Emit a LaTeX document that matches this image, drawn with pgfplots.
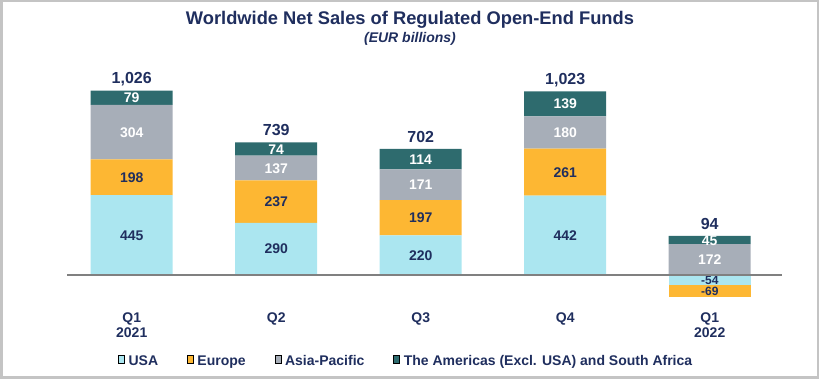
\documentclass[border=0pt]{standalone}
\usepackage{fontspec}
\setmainfont{Liberation Sans}
\usepackage{pgfplots}
\usepackage{pgfplotstable}
\pgfplotsset{compat=1.18}
\definecolor{navy}{HTML}{1F2E5E}
\definecolor{cusa}{HTML}{ABE6F0}
\definecolor{ceur}{HTML}{FDB733}
\definecolor{casia}{HTML}{A7AEB8}
\definecolor{camer}{HTML}{2E6B6E}
\definecolor{cframe}{HTML}{C4C4C4}
\definecolor{czero}{HTML}{808080}

\pgfplotstableread{
x usa eur asia amer usal eurl asial amerl tot
0 445 198 304 79  445 198 304 79  1,026
1 290 237 137 74  290 237 137 74  739
2 220 197 171 114 220 197 171 114 702
3 442 261 180 139 442 261 180 139 1,023
4 0   0   172 45  {} {} 172 45 94
}\posdata
\pgfplotstableread{
x usa eur usal eurl
4 -54 -69 -54 -69
}\negdata

\pgfplotsset{
  myaxis/.style={x=144.5bp, y=0.1796bp, xmin=-0.448, xmax=4.5, ymin=-150, ymax=1100,
    enlargelimits=false, clip=false,
    at={(67bp,77.1bp)}, anchor=south west},
  seglab/.style n args={2}{
    point meta=explicit symbolic, nodes near coords,
    every node near coord/.style={anchor=base, text=#1, inner sep=0pt,
      font=\fontsize{#2bp}{#2bp}\selectfont\bfseries,
      yshift={-0.358*#2*1bp}}},
}

\begin{document}
\begin{tikzpicture}
\useasboundingbox (0,0) rectangle (819bp,379bp);
\draw[cframe, line width=2.5bp] (1.25bp,1.25bp) rectangle (817.75bp,377.75bp);

\begin{axis}[myaxis, ybar stacked, bar width=82bp,
  axis line style={draw=none}, major tick length=0pt, ytick=\empty,
  xtick={0,1,2,3,4}, xticklabels={{Q1\\2021},Q2,Q3,Q4,{Q1\\2022}},
  xticklabel style={align=center, font=\fontsize{14bp}{15bp}\selectfont\bfseries,
    text=navy, anchor=north, inner sep=0pt, yshift=-11bp},
  ybar legend/.style={legend image code/.code={\fill[##1, draw=none] (0bp,-3.5bp) rectangle (7bp,3.5bp);}},
  legend columns=4,
  legend style={at={(axis description cs:0.0713,-0.263)}, anchor=west, draw=none, fill=none,
    inner sep=0pt, font=\fontsize{14bp}{16bp}\selectfont\bfseries, text=navy,
    /tikz/every odd column/.append style={column sep=4bp},
    /tikz/every even column/.append style={column sep=29bp},
    nodes={inner sep=0pt}},
]
\addplot[fill=cusa, draw=none, seglab={navy}{14}] table[x=x, y=usa, meta=usal] {\posdata};
\addlegendentry{USA}
\addplot[fill=ceur, draw=none, seglab={navy}{14}] table[x=x, y=eur, meta=eurl] {\posdata};
\addlegendentry{Europe}
\addplot[fill=casia, draw=none, seglab={white}{14}] table[x=x, y=asia, meta=asial] {\posdata};
\addlegendentry{Asia-Pacific}
\addplot[fill=camer, draw=none, seglab={white}{14}] table[x=x, y=amer, meta=amerl] {\posdata};
\addlegendentry{The Americas (Excl. USA) and South Africa}
\end{axis}

\begin{axis}[myaxis, ybar stacked, bar width=82bp, hide axis]
\addplot[fill=cusa, draw=none, seglab={navy}{12}] table[x=x, y=usa, meta=usal] {\negdata};
\addplot[fill=ceur, draw=none, seglab={navy}{12}] table[x=x, y=eur, meta=eurl] {\negdata};
\end{axis}

\begin{axis}[myaxis, hide axis]
\addplot[draw=none, mark=none, point meta=explicit symbolic, nodes near coords,
  every node near coord/.style={anchor=base, text=navy, inner sep=0pt,
    font=\fontsize{16bp}{16bp}\selectfont\bfseries, yshift=6.7bp}]
  table[x=x, y expr=\thisrow{usa}+\thisrow{eur}+\thisrow{asia}+\thisrow{amer}, meta=tot] {\posdata};
\draw[czero, line width=2bp] (axis cs:-0.448,0) -- (axis cs:4.5,0);
\end{axis}

\node[anchor=base, text=navy, font=\fontsize{18.3bp}{20bp}\selectfont\bfseries] at (410bp,354bp)
  {Worldwide Net Sales of Regulated Open-End Funds};
\node[anchor=base, text=navy, font=\fontsize{14bp}{16bp}\selectfont\bfseries\itshape] at (410bp,336.5bp)
  {(EUR billions)};
\end{tikzpicture}
\end{document}
